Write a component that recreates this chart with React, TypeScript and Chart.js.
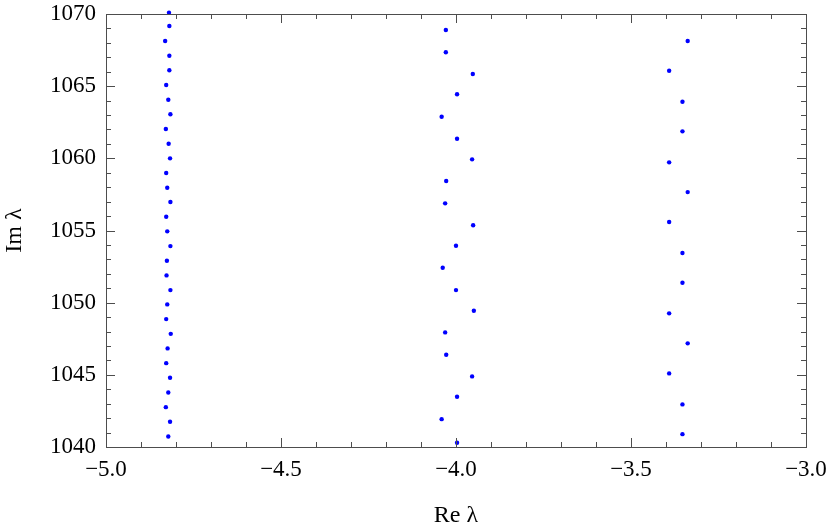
import React, { useEffect, useRef } from "react";
import { Chart, registerables } from "chart.js";

Chart.register(...registerables);

// Branch 1 (leftmost column)
const branch1Re = [
  -4.820, -4.819, -4.831, -4.819, -4.819, -4.828, -4.822, -4.816, -4.829, -4.821,
  -4.817, -4.828, -4.825, -4.816, -4.828, -4.825, -4.816, -4.826, -4.827, -4.816,
  -4.825, -4.828, -4.815, -4.824, -4.828, -4.817, -4.822, -4.829, -4.817, -4.822,
  -4.829,
];
const branch1Im = [
  1070.09, 1069.17, 1068.13, 1067.11, 1066.10, 1065.08, 1064.06, 1063.05, 1062.03, 1061.01,
  1060.00, 1058.98, 1057.96, 1056.97, 1055.95, 1054.94, 1053.92, 1052.90, 1051.89, 1050.87,
  1049.88, 1048.86, 1047.84, 1046.83, 1045.81, 1044.80, 1043.78, 1042.76, 1041.75, 1040.73,
  1039.72,
];

// Branch 2 (middle column)
const branch2Re = [
  -4.029, -4.029, -3.952, -3.997, -4.041, -3.997, -3.954, -4.028, -4.031, -3.951,
  -4.000, -4.038, -4.000, -3.949, -4.031, -4.028, -3.954, -3.997, -4.041, -3.997,
];
const branch2Im = [
  1068.89, 1067.35, 1065.84, 1064.44, 1062.88, 1061.36, 1059.93, 1058.43, 1056.88, 1055.36,
  1053.94, 1052.42, 1050.87, 1049.44, 1047.94, 1046.39, 1044.89, 1043.48, 1041.93, 1040.29,
];

// Branch 3 (right column)
const branch3Re = [
  -3.338, -3.391, -3.353, -3.353, -3.391, -3.338, -3.391, -3.353, -3.353, -3.391,
  -3.338, -3.391, -3.353, -3.353,
];
const branch3Im = [
  1068.13, 1066.07, 1063.92, 1061.87, 1059.72, 1057.66, 1055.59, 1053.44, 1051.38, 1049.26,
  1047.18, 1045.10, 1042.95, 1040.89,
];

const xMin = -5;
const xMax = -3;
const xMajorStep = 0.5;
const xMinorStep = 0.1;
const yMin = 1040;
const yMax = 1070;
const yMajorStep = 5;
const yMinorStep = 1;

const xTitle = "Re λ";
const yTitle = "Im λ";

const FONT = "'Liberation Serif', 'Times New Roman', serif";
const FRAME = "#4d4d4d";
const POINT = "#0000ff";

const toPoints = (re: number[], im: number[]) => re.map((x, i) => ({ x, y: im[i] }));

const framePlugin = {
  id: "mathematicaFrame",
  afterDatasetsDraw(chart: any) {
    const { ctx, chartArea, scales } = chart;
    const { left, right, top, bottom } = chartArea;
    const xs = scales.x;
    const ys = scales.y;
    ctx.save();
    ctx.strokeStyle = FRAME;
    ctx.lineWidth = 1;
    ctx.beginPath();
    const nx = Math.round((xMax - xMin) / xMinorStep);
    for (let i = 0; i <= nx; i++) {
      const v = xMin + i * xMinorStep;
      const major = Math.abs(v / xMajorStep - Math.round(v / xMajorStep)) < 1e-6;
      const len = major ? 9 : 5;
      const px = Math.round(xs.getPixelForValue(v)) + 0.5;
      ctx.moveTo(px, bottom);
      ctx.lineTo(px, bottom - len);
      ctx.moveTo(px, top);
      ctx.lineTo(px, top + len);
    }
    const ny = Math.round((yMax - yMin) / yMinorStep);
    for (let i = 0; i <= ny; i++) {
      const v = yMin + i * yMinorStep;
      const major = Math.abs(v / yMajorStep - Math.round(v / yMajorStep)) < 1e-6;
      const len = major ? 9 : 5;
      const py = Math.round(ys.getPixelForValue(v)) + 0.5;
      ctx.moveTo(left, py);
      ctx.lineTo(left + len, py);
      ctx.moveTo(right, py);
      ctx.lineTo(right - len, py);
    }
    ctx.stroke();
    ctx.strokeRect(Math.round(left) + 0.5, Math.round(top) + 0.5, Math.round(right - left), Math.round(bottom - top));
    ctx.restore();
  },
};

export default function App() {
  const canvasRef = useRef<HTMLCanvasElement | null>(null);

  useEffect(() => {
    const canvas = canvasRef.current;
    if (!canvas) return;
    const ds = (re: number[], im: number[], label: string) => ({
      label,
      data: toPoints(re, im),
      backgroundColor: POINT,
      borderColor: POINT,
      borderWidth: 0,
      pointRadius: 2.2,
      pointHoverRadius: 2.2,
      showLine: false,
      clip: false as any,
    });
    const chart = new Chart(canvas, {
      type: "scatter",
      data: {
        datasets: [
          ds(branch1Re, branch1Im, "branch 1"),
          ds(branch2Re, branch2Im, "branch 2"),
          ds(branch3Re, branch3Im, "branch 3"),
        ],
      },
      options: {
        responsive: false,
        animation: false,
        events: [],
        layout: { padding: { left: 0, right: 24, top: 14, bottom: 0 } },
        plugins: {
          legend: { display: false },
          tooltip: { enabled: false },
        },
        scales: {
          x: {
            type: "linear",
            min: xMin,
            max: xMax,
            grid: { display: false, drawTicks: false },
            border: { display: false },
            ticks: {
              stepSize: xMajorStep,
              padding: 9,
              color: "#000",
              font: { family: FONT, size: 23 },
              maxRotation: 0,
              callback: (v: any) => {
                const n = Number(v);
                return (n < 0 ? "\u2212" : "") + Math.abs(n).toFixed(1);
              },
            },
            title: {
              display: true,
              text: xTitle,
              color: "#000",
              font: { family: FONT, size: 24 },
              padding: { top: 0, bottom: 2 },
            },
            afterFit: (s: any) => {
              s.height = 85;
              s.paddingLeft = 0;
              s.paddingRight = 0;
            },
          },
          y: {
            type: "linear",
            min: yMin,
            max: yMax,
            grid: { display: false, drawTicks: false },
            border: { display: false },
            ticks: {
              stepSize: yMajorStep,
              padding: 10,
              color: "#000",
              font: { family: FONT, size: 23 },
              callback: (v: any) => String(Math.round(Number(v))),
            },
            title: {
              display: true,
              text: yTitle,
              color: "#000",
              font: { family: FONT, size: 24 },
              padding: { top: 0, bottom: 0 },
            },
            afterFit: (s: any) => {
              s.width = 106;
              s.paddingTop = 0;
              s.paddingBottom = 0;
            },
          },
        },
      },
      plugins: [framePlugin],
    });
    return () => chart.destroy();
  }, []);

  return (
    <div style={{ position: "absolute", left: 0, top: 0, width: 830, height: 532, background: "#fff" }}>
      <canvas ref={canvasRef} width={830} height={532} style={{ display: "block" }} />
    </div>
  );
}
